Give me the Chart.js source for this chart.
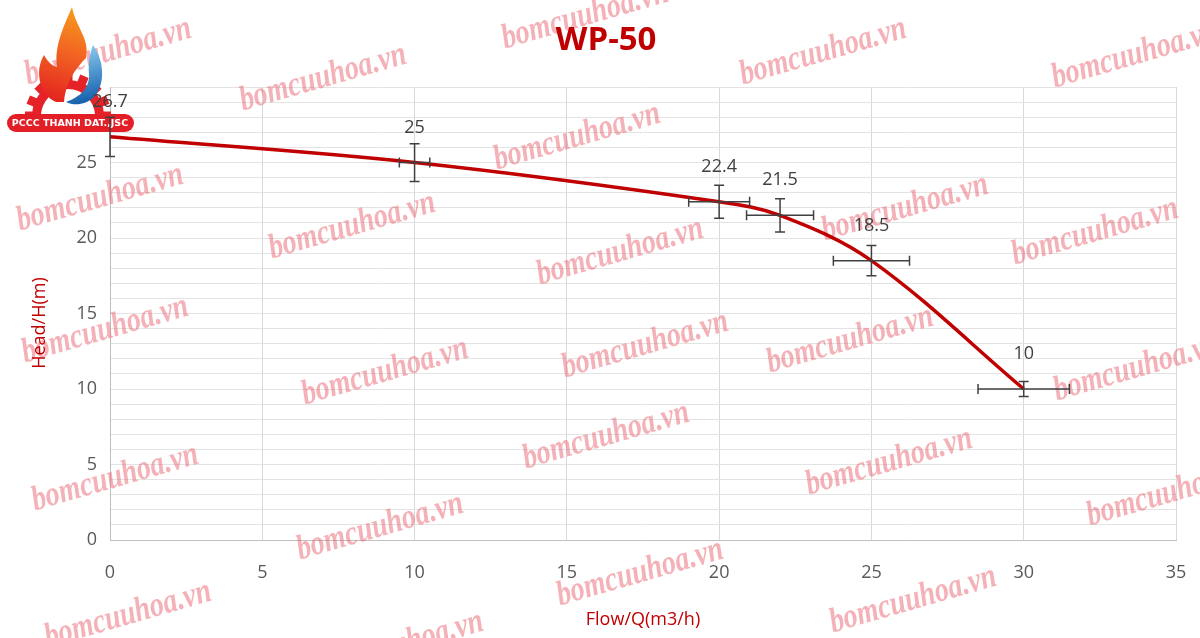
<!DOCTYPE html>
<html>
<head>
<meta charset="utf-8">
<script src="https://cdn.jsdelivr.net/npm/chart.js@4/dist/chart.umd.min.js"></script>
<style>
  html, body { margin: 0; padding: 0; background: #fff; }
  #wrap { width: 1200px; height: 638px; position: relative; }
</style>
</head>
<body>
<div id="wrap"><canvas id="pumpChart" width="1200" height="638"></canvas></div>
<script>
// Pump curve WP-50
const flowQ = [0, 10, 20, 22, 25, 30];
const headH = [26.7, 25, 22.4, 21.5, 18.5, 10];
const errFlow = [0, 0.5, 1.0, 1.1, 1.25, 1.5];
const errHead = [1.3, 1.25, 1.1, 1.1, 1.0, 0.5];
const headLabels = ['26.7', '25', '22.4', '21.5', '18.5', '10'];

const chartTitle = 'WP-50';
const xTitle = 'Flow/Q(m3/h)';
const yTitle = 'Head/H(m)';
const watermark = 'bomcuuhoa.vn';

// watermark spots (decoration only)
const wmSpots = [
    [585, 16], [823, 52], [1135, 55], [108, 52], [323, 78], [577, 137],
    [100, 198], [352, 226], [620, 252], [905, 208], [1095, 232],
    [105, 330], [385, 372], [645, 345], [850, 340], [1137, 368],
    [115, 478], [606, 436], [889, 462], [1170, 493], [380, 527],
    [640, 573], [128, 615], [400, 645], [913, 600]
];

const red = '#c00000';
const font = "'Open Sans', 'DejaVu Sans', sans-serif";

function drawLogo(ctx) {
    ctx.save();
    // gear
    ctx.save();
    ctx.beginPath();
    ctx.rect(0, 0, 140, 114);
    ctx.clip();
    ctx.fillStyle = '#e52228';
    const gx = 68, gy = 116;
    ctx.beginPath();
    ctx.arc(gx, gy, 36, 0, Math.PI * 2);
    ctx.fill();
    for (let i = 0; i < 16; i++) {
        const a = i / 16 * Math.PI * 2;
        ctx.save();
        ctx.translate(gx, gy);
        ctx.rotate(a);
        ctx.fillRect(-4.5, -43, 9, 10);
        ctx.restore();
    }
    ctx.fillStyle = '#fff';
    ctx.beginPath();
    ctx.arc(gx, gy, 27, 0, Math.PI * 2);
    ctx.fill();
    ctx.restore();

    // flame
    const g = ctx.createLinearGradient(45, 100, 75, 8);
    g.addColorStop(0, '#e3211f');
    g.addColorStop(0.55, '#f26522');
    g.addColorStop(1, '#f89b1c');
    ctx.fillStyle = g;
    ctx.beginPath();
    ctx.moveTo(56, 102);
    ctx.bezierCurveTo(40, 95, 34, 72, 44, 55);
    ctx.bezierCurveTo(48, 62, 52, 66, 57, 67);
    ctx.bezierCurveTo(54, 46, 64, 26, 72, 7);
    ctx.bezierCurveTo(76, 28, 90, 38, 86, 58);
    ctx.bezierCurveTo(78, 66, 66, 80, 64, 102);
    ctx.closePath();
    ctx.fill();

    // water drop
    const b = ctx.createLinearGradient(80, 45, 95, 100);
    b.addColorStop(0, '#8fd0f2');
    b.addColorStop(1, '#1560ad');
    ctx.fillStyle = b;
    ctx.beginPath();
    ctx.moveTo(93, 45);
    ctx.bezierCurveTo(104, 60, 106, 84, 94, 97);
    ctx.bezierCurveTo(86, 105, 74, 106, 66, 102);
    ctx.bezierCurveTo(80, 97, 90, 88, 89, 74);
    ctx.bezierCurveTo(88, 63, 90, 53, 93, 45);
    ctx.closePath();
    ctx.fill();

    // name plate
    ctx.fillStyle = '#e21f26';
    ctx.beginPath();
    ctx.roundRect(7, 114, 127, 18, 9);
    ctx.fill();
    ctx.fillStyle = '#fff';
    ctx.font = "bold 9.5px 'DejaVu Sans', sans-serif";
    ctx.textAlign = 'center';
    ctx.textBaseline = 'middle';
    ctx.fillText('PCCC THANH DAT.,JSC', 70, 123.5);
    ctx.restore();
}

const decorPlugin = {
    id: 'decor',
    beforeDatasetsDraw(chart) {
        const ctx = chart.ctx;
        ctx.save();
        ctx.fillStyle = 'rgba(234, 100, 112, 0.5)';
        ctx.font = "italic bold 35px 'Liberation Serif', 'DejaVu Serif', serif";
        ctx.textAlign = 'center';
        ctx.textBaseline = 'middle';
        wmSpots.forEach(([x, y]) => {
            ctx.save();
            ctx.translate(x, y);
            ctx.rotate(-0.28);
            ctx.scale(0.8, 1);
            ctx.fillText(watermark, 0, 0);
            ctx.restore();
        });
        ctx.restore();
        drawLogo(ctx);
    },
    afterDatasetsDraw(chart) {
        const ctx = chart.ctx;
        const xs = chart.scales.x, ys = chart.scales.y;
        ctx.save();
        // error bars
        ctx.strokeStyle = '#404040';
        ctx.lineWidth = 1.5;
        flowQ.forEach((q, i) => {
            const px = xs.getPixelForValue(q);
            const py = ys.getPixelForValue(headH[i]);
            if (errHead[i] > 0) {
                const t = ys.getPixelForValue(headH[i] + errHead[i]);
                const bt = ys.getPixelForValue(headH[i] - errHead[i]);
                ctx.beginPath();
                ctx.moveTo(px, t); ctx.lineTo(px, bt);
                ctx.moveTo(px - 5, t); ctx.lineTo(px + 5, t);
                ctx.moveTo(px - 5, bt); ctx.lineTo(px + 5, bt);
                ctx.stroke();
            }
            if (errFlow[i] > 0) {
                const l = xs.getPixelForValue(q - errFlow[i]);
                const r = xs.getPixelForValue(q + errFlow[i]);
                ctx.beginPath();
                ctx.moveTo(l, py); ctx.lineTo(r, py);
                ctx.moveTo(l, py - 5); ctx.lineTo(l, py + 5);
                ctx.moveTo(r, py - 5); ctx.lineTo(r, py + 5);
                ctx.stroke();
            }
        });
        // data labels
        ctx.fillStyle = '#404040';
        ctx.font = '18px ' + font;
        ctx.textAlign = 'center';
        ctx.textBaseline = 'middle';
        flowQ.forEach((q, i) => {
            ctx.fillText(headLabels[i], xs.getPixelForValue(q), ys.getPixelForValue(headH[i]) - 35);
        });
        ctx.restore();
    },
    afterDraw(chart) {
        const ctx = chart.ctx;
        const area = chart.chartArea;
        ctx.save();
        ctx.fillStyle = red;
        ctx.textAlign = 'center';
        ctx.textBaseline = 'middle';
        ctx.font = 'bold 33px ' + font;
        ctx.fillText(chartTitle, 606, 41);
        ctx.font = '18px ' + font;
        ctx.fillText(xTitle, (area.left + area.right) / 2, 620);
        ctx.translate(40, 323);
        ctx.rotate(-Math.PI / 2);
        ctx.fillText(yTitle, 0, 0);
        ctx.restore();
    }
};

const ctx = document.getElementById('pumpChart');
new Chart(ctx, {
    type: 'scatter',
    data: {
        datasets: [{
            label: 'H',
            data: flowQ.map((q, i) => ({ x: q, y: headH[i] })),
            showLine: true,
            borderColor: red,
            borderWidth: 3.5,
            pointRadius: 0,
            tension: 0.35
        }]
    },
    options: {
        responsive: false,
        animation: false,
        devicePixelRatio: 1,
        layout: { padding: { top: 87, right: 24, left: 0, bottom: 0 } },
        plugins: {
            legend: { display: false },
            tooltip: { enabled: false },
            title: { display: false }
        },
        scales: {
            x: {
                type: 'linear',
                min: 0,
                max: 35,
                ticks: { stepSize: 5, color: '#595959', font: { size: 18, family: font }, padding: 22 },
                grid: { color: '#d9d9d9', drawTicks: false },
                border: { color: '#bfbfbf' },
                afterFit: s => { s.height = 98; s.paddingLeft = 0; s.paddingRight = 0; }
            },
            y: {
                min: 0,
                max: 30,
                ticks: {
                    stepSize: 1,
                    autoSkip: false,
                    color: '#595959',
                    font: { size: 18, family: font },
                    padding: 13,
                    callback: v => (v % 5 === 0 && v < 30) ? v : ''
                },
                grid: { color: '#e3e3e3', drawTicks: false },
                border: { color: '#bfbfbf' },
                afterFit: s => { s.width = 110; s.paddingTop = 0; s.paddingBottom = 0; }
            }
        }
    },
    plugins: [decorPlugin]
});
</script>
</body>
</html>
